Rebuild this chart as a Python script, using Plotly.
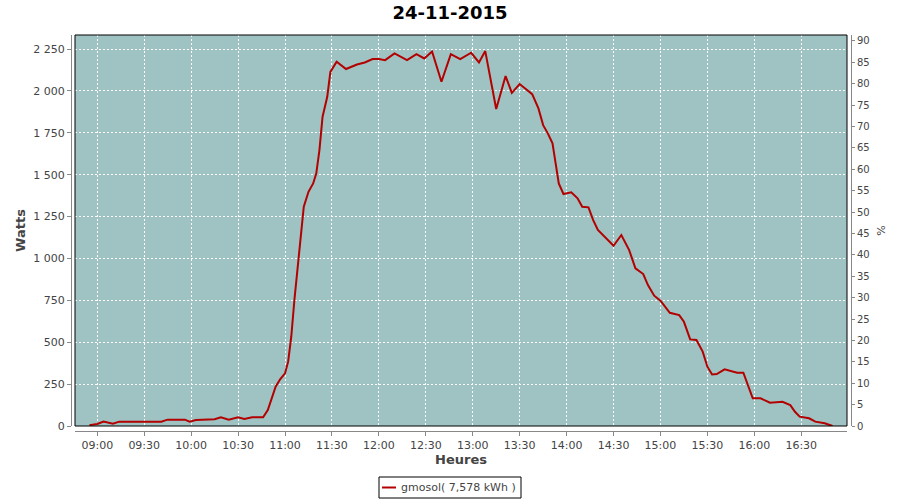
import plotly.graph_objects as go

# ---- data ----
day = "2015-11-24"
times = ["08:55", "09:00", "09:04", "09:07", "09:10", "09:14", "09:41", "09:43", "09:45", "09:56",
         "09:59", "10:03", "10:15", "10:19", "10:24", "10:30", "10:34", "10:39", "10:46", "10:49",
         "10:52", "10:54", "10:57", "11:00", "11:02", "11:04", "11:06", "11:08", "11:10", "11:12",
         "11:15", "11:18", "11:20", "11:22", "11:24", "11:27", "11:29", "11:33", "11:39", "11:46",
         "11:51", "11:56", "12:00", "12:04", "12:10", "12:18", "12:24", "12:29", "12:34", "12:40",
         "12:46", "12:52", "12:59", "13:04", "13:08", "13:15", "13:21", "13:25", "13:30", "13:38",
         "13:42", "13:45", "13:48", "13:51", "13:53", "13:55", "13:58", "14:03", "14:07", "14:10",
         "14:14", "14:17", "14:20", "14:25", "14:30", "14:35", "14:40", "14:44", "14:49", "14:52",
         "14:56", "15:00", "15:06", "15:12", "15:15", "15:19", "15:23", "15:27", "15:30", "15:33",
         "15:36", "15:41", "15:49", "15:53", "15:56", "15:59", "16:04", "16:10", "16:18", "16:23",
         "16:26", "16:29", "16:35", "16:39", "16:45", "16:50"]
watts = [5, 12, 26, 22, 14, 26, 26, 32, 38, 38,
         26, 36, 40, 52, 38, 52, 42, 52, 52, 95,
         185, 235, 280, 314, 384, 533, 752, 951, 1140, 1309,
         1398, 1448, 1508, 1647, 1846, 1965, 2114, 2174, 2131, 2158,
         2170, 2190, 2190, 2184, 2224, 2184, 2220, 2194, 2236, 2055,
         2220, 2190, 2228, 2170, 2238, 1892, 2089, 1989, 2041, 1981,
         1896, 1796, 1747, 1687, 1568, 1448, 1385, 1395, 1359, 1309,
         1305, 1229, 1170, 1120, 1076, 1140, 1050, 941, 907, 841,
         778, 748, 676, 662, 622, 517, 513, 444, 354, 308,
         310, 338, 318, 318, 235, 165, 165, 139, 145, 125,
         85, 56, 46, 26, 16, 0]
series_name = "gmosol"
energy_label = "gmosol( 7,578 kWh )"
title_text = "24-11-2015"
y_title = "Watts"
y2_title = "%"
x_title = "Heures"

x_vals = [f"{day} {t}" for t in times]

BG = "#9EC3C2"
RED = "#B30000"
GREY_TXT = "#444444"
AXIS_GREY = "#888888"

W, H = 900, 500

fig = go.Figure()
fig.add_trace(go.Scatter(x=x_vals, y=watts, mode="lines", name=series_name,
                         line=dict(color=RED, width=2), showlegend=False))
# empty trace so that the right-hand percentage axis is drawn
fig.add_trace(go.Scatter(x=[], y=[], yaxis="y2", showlegend=False, hoverinfo="skip"))

# plot frame geometry (px): axis lines offset a few px from the data area
L, R, T, B = 71, 851, 35, 431
pw, ph = R - L, B - T
xdom = [(75 - L) / pw, (847 - L) / pw]
ydom = [(B - 426) / ph, 1.0]

tickfont = dict(family="DejaVu Sans", size=11, color=GREY_TXT)
titlefont = dict(family="DejaVu Sans", size=13, color=GREY_TXT, weight="bold")

fig.update_layout(
    width=W, height=H,
    margin=dict(l=L, r=W - R, t=T, b=H - B, pad=0),
    paper_bgcolor="white", plot_bgcolor=BG,
    separators=", ",
    title=dict(text=title_text, x=450 / W, xanchor="center", y=1 - 12.5 / H,
               yanchor="middle", yref="container", xref="container",
               font=dict(family="DejaVu Sans", size=18, color="black", weight="bold")),
    xaxis=dict(
        type="date", domain=xdom, anchor="free", position=0,
        range=[f"{day} 08:45:45", f"{day} 16:59:15"],
        tick0=f"{day} 09:00", dtick=30 * 60 * 1000, tickformat="%H:%M",
        showgrid=True, gridcolor="white", gridwidth=1, griddash="2px,2px",
        showline=True, linecolor=AXIS_GREY, linewidth=1,
        ticks="outside", ticklen=4, tickcolor=AXIS_GREY,
        tickfont=tickfont, zeroline=False, automargin=False,
        title=dict(text=x_title, font=titlefont, standoff=3),
    ),
    yaxis=dict(
        domain=ydom, anchor="free", position=0,
        range=[0, 2334], dtick=250, tickformat=",d",
        showgrid=True, gridcolor="white", gridwidth=1, griddash="2px,2px",
        showline=True, linecolor=AXIS_GREY, linewidth=1,
        ticks="outside", ticklen=4, tickcolor=AXIS_GREY,
        tickfont=tickfont, zeroline=False, automargin=False,
        title=dict(text=y_title, font=titlefont, standoff=3),
    ),
    yaxis2=dict(
        domain=ydom, anchor="free", position=1, overlaying="y", side="right",
        range=[0, 91.4], dtick=5, showgrid=False,
        showline=True, linecolor=AXIS_GREY, linewidth=1,
        ticks="outside", ticklen=3, tickcolor=AXIS_GREY,
        tickfont=dict(family="DejaVu Sans", size=10, color=GREY_TXT),
        zeroline=False, automargin=False,
        title=dict(text=y2_title, font=dict(family="DejaVu Sans", size=11, color=GREY_TXT),
                   standoff=8),
    ),
)

# black frame around data area
fig.add_shape(type="rect", xref="x domain", yref="y domain", x0=0, x1=1, y0=0, y1=1,
              line=dict(color="black", width=1), layer="above")


# legend box (drawn manually to match the compact style)
def px_x(v):
    return (v - L) / pw


def px_y(v):
    return (B - v) / ph


fig.add_shape(type="rect", xref="paper", yref="paper",
              x0=px_x(379), x1=px_x(521), y0=px_y(498), y1=px_y(477),
              line=dict(color="black", width=1), fillcolor="white")
fig.add_shape(type="line", xref="paper", yref="paper",
              x0=px_x(382), x1=px_x(396), y0=px_y(487.5), y1=px_y(487.5),
              line=dict(color=RED, width=2))
fig.add_annotation(text=energy_label, xref="paper", yref="paper",
                   x=px_x(399), y=px_y(487.5), xanchor="left", yanchor="middle",
                   showarrow=False, font=dict(family="DejaVu Sans", size=11, color=GREY_TXT))

# remove the browser's default 8px body margin so the figure sits at the window's corner
fig.write_html("out.html", config={"displayModeBar": False},
               post_script="document.body.style.margin='0';")
